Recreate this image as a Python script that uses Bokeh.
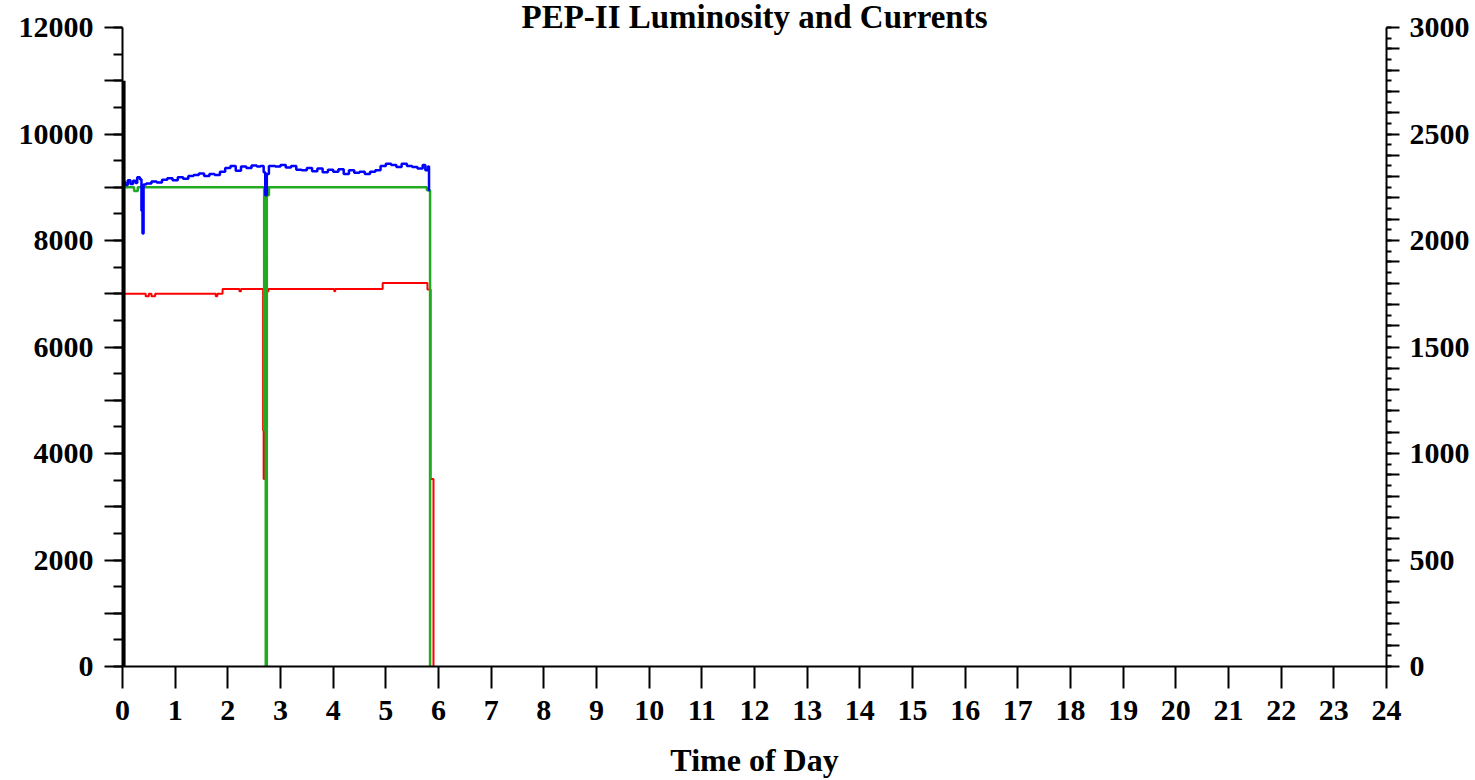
from bokeh.plotting import figure
from bokeh.models import Range1d, LinearAxis, FixedTicker, Label
from bokeh.embed import file_html
from bokeh.resources import INLINE

# ---- data ----
title_text = "PEP-II Luminosity and Currents"
x_label = "Time of Day"

hours_lumi = [0.00, 0.05, 0.10, 0.15, 0.20, 0.25, 0.28, 0.33, 0.36, 0.38, 0.40, 0.45,
              0.55, 0.65, 0.75, 0.85, 0.95, 1.05, 1.15, 1.25, 1.35, 1.45, 1.55, 1.65,
              1.75, 1.85, 1.95, 2.05, 2.15, 2.25, 2.35, 2.45, 2.55, 2.62, 2.68, 2.71,
              2.74, 2.78, 2.90, 3.00, 3.10, 3.20, 3.30, 3.40, 3.50, 3.60, 3.70, 3.80,
              3.90, 4.00, 4.10, 4.20, 4.30, 4.40, 4.50, 4.60, 4.70, 4.80, 4.90, 5.00,
              5.10, 5.20, 5.30, 5.40, 5.50, 5.60, 5.70, 5.75, 5.80, 5.82, 5.83]
lumi = [9100, 9040, 9130, 9060, 9120, 9080, 9190, 9150, 8560, 8130, 9050, 9070,
        9110, 9090, 9140, 9170, 9130, 9190, 9160, 9210, 9230, 9260, 9210, 9250,
        9230, 9290, 9360, 9400, 9310, 9390, 9360, 9410, 9390, 9400, 9280, 8850,
        9250, 9400, 9390, 9420, 9370, 9400, 9330, 9320, 9360, 9300, 9350, 9280,
        9330, 9290, 9340, 9250, 9320, 9270, 9290, 9250, 9290, 9320, 9400, 9440,
        9420, 9380, 9440, 9400, 9380, 9350, 9420, 9320, 9390, 8940, 8940]

hours_ler = [0.00, 0.22, 0.29, 2.69, 2.70, 2.71, 2.72, 2.74, 2.76, 2.78, 5.78, 5.84, 5.86]
ler_current = [2250, 2232, 2250, 1110, 2245, 1110, 0, 2250, 2212, 2250, 2236, 0, 0]

hours_her = [0.00, 0.44, 0.50, 0.55, 0.62, 1.77, 1.80, 1.90, 2.22, 2.25, 2.67, 2.68,
             2.69, 2.70, 2.75, 2.77, 4.02, 4.04, 4.94, 5.79, 5.85, 5.905, 5.91]
her_current = [1750, 1738, 1750, 1738, 1750, 1738, 1750, 1772, 1762, 1772, 1108, 880,
               880, 1772, 1760, 1772, 1762, 1772, 1800, 1770, 880, 0, 0]

hours_black = [0.03, 0.03]
black_vals = [0, 11000]

x_ticks = list(range(0, 25))
left_max = 12000
right_max = 3000
left_ticks = list(range(0, 12001, 1000))
left_minor = list(range(0, 12001, 500))
left_labelled = list(range(0, 12001, 2000))
right_ticks = list(range(0, 3001, 100))
right_minor = list(range(0, 3001, 50))
right_labelled = list(range(0, 3001, 500))

FONT = "Liberation Serif"
FS = "30px"

# layout: the axes' top value sits 27px below the canvas top; the frame reaches the top
FRAME_H = 666
AXIS_TOP = 27
ext = FRAME_H / (FRAME_H - AXIS_TOP)
upx = left_max / (FRAME_H - AXIS_TOP)  # left units per pixel

p = figure(width=1475, height=780, x_range=Range1d(0, 24), y_range=Range1d(0, left_max * ext),
           output_backend="svg", toolbar_location=None,
           min_border_left=122, min_border_right=89, min_border_top=0, min_border_bottom=114)
p.extra_y_ranges = {"cur": Range1d(0, right_max * ext)}
p.xgrid.visible = False
p.ygrid.visible = False
p.outline_line_color = None
p.background_fill_color = "white"
p.border_fill_color = "white"

p.step(hours_her, her_current, mode="after", y_range_name="cur", line_color="#ff0000", line_width=2)
p.step(hours_ler, ler_current, mode="after", y_range_name="cur", line_color="#22aa22", line_width=2.5)
p.step(hours_lumi, lumi, mode="after", line_color="#0000ff", line_width=2.5)
p.line(hours_black, black_vals, line_color="black", line_width=3)

def style(ax):
    ax.axis_line_color = "black"
    ax.axis_line_width = 2
    ax.major_tick_line_color = "black"
    ax.major_tick_line_width = 2
    ax.minor_tick_line_color = "black"
    ax.minor_tick_line_width = 2
    ax.major_tick_in = 0
    ax.minor_tick_in = 0
    ax.major_label_text_font = FONT
    ax.major_label_text_font_style = "bold"
    ax.major_label_text_font_size = FS
    ax.major_label_text_color = "black"

# bottom axis
xa = p.xaxis[0]
style(xa)
xa.ticker = FixedTicker(ticks=x_ticks, minor_ticks=[])
xa.major_tick_out = 22
xa.major_label_standoff = 12
xa.axis_label = x_label
xa.axis_label_text_font = FONT
xa.axis_label_text_font_style = "bold"
xa.axis_label_text_font_size = "32px"
xa.axis_label_text_color = "black"
xa.axis_label_standoff = 19

# left axis
ya = p.yaxis[0]
style(ya)
ya.bounds = (0, left_max)
ya.ticker = FixedTicker(ticks=left_ticks, minor_ticks=left_minor)
ya.major_label_overrides = {v: "" for v in left_ticks if v not in left_labelled}
ya.major_tick_out = 18
ya.minor_tick_out = 9
ya.major_label_standoff = 11

# right axis
ra = LinearAxis(y_range_name="cur")
style(ra)
ra.bounds = (0, right_max)
ra.ticker = FixedTicker(ticks=right_ticks, minor_ticks=right_minor)
ra.major_label_overrides = {v: "" for v in right_ticks if v not in right_labelled}
ra.major_tick_out = 13
ra.minor_tick_out = 5
ra.major_label_standoff = 10
p.add_layout(ra, "right")

title = Label(x=12, y=left_max * ext - 16 * upx, text=title_text, text_align="center",
              text_baseline="alphabetic", text_font=FONT, text_font_style="bold",
              text_font_size="33px", text_color="black")
p.add_layout(title)

open("out.html", "w").write(file_html(p, INLINE))
